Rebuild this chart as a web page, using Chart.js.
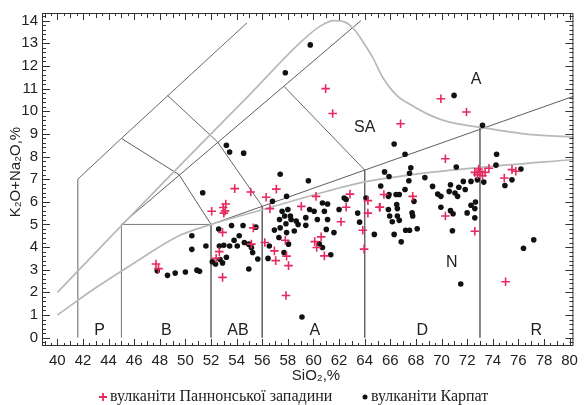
<!DOCTYPE html>
<html>
<head>
<meta charset="utf-8">
<script src="https://cdn.jsdelivr.net/npm/chart.js@4.4.0/dist/chart.umd.min.js"></script>
<style>
  html, body { margin: 0; padding: 0; background: #fff; }
  #wrap { width: 584px; height: 405px; }
</style>
</head>
<body>
<div id="wrap"><canvas id="tas" width="584" height="405"></canvas></div>
<script>
// tick labels
const xTicks = [40, 42, 44, 46, 48, 50, 52, 54, 56, 58, 60, 62, 64, 66, 68, 70, 72, 74, 76, 78, 80];
const yTicks = [0, 1, 2, 3, 4, 5, 6, 7, 8, 9, 10, 11, 12, 13, 14];

// вулканіти Паннонської западини (red crosses)
const pannonSi = [47.7, 47.9, 52.05, 52.95, 53.1, 53.15, 53.0, 53.85, 55.1, 56.3, 57.1, 56.6, 52.9, 52.65, 52.4, 52.9,
  55.15, 55.3, 56.2, 56.95, 57.05, 57.9, 58.05, 57.85, 57.8, 59.05, 60.2, 60.6, 60.1, 60.25, 60.85, 62.85, 62.55, 62.15,
  64.25, 65.15, 64.25, 63.85, 63.95, 60.95, 61.5, 66.8, 69.95, 71.95, 70.3, 72.6, 72.8, 73.0, 73.2, 73.4, 72.9, 73.7,
  74.9, 75.5, 75.8, 65.5, 67.75, 65.2, 70.3, 72.6, 75.0];
const pannonAlk = [3.25, 3.05, 5.58, 5.75, 5.6, 5.9, 5.5, 6.58, 6.43, 6.2, 6.56, 5.7, 4.65, 3.8, 3.5, 2.66,
  4.13, 4.85, 4.2, 3.83, 3.4, 3.6, 3.18, 1.86, 4.3, 5.8, 6.24, 4.45, 4.24, 3.98, 3.61, 6.34, 5.76, 5.12,
  6.05, 5.76, 5.5, 4.74, 3.91, 11.0, 9.9, 9.45, 10.55, 9.97, 7.9, 7.3, 7.2, 7.35, 7.15, 7.3, 7.45, 7.48,
  7.05, 7.42, 7.35, 6.32, 6.24, 5.76, 5.37, 4.7, 2.47];

// вулканіти Карпат (black dots)
const carpSi = [47.8, 48.6, 49.2, 50.0, 50.9, 51.1, 50.5, 50.5, 51.6, 51.35, 52.6, 53.6, 54.5, 55.5, 52.65, 53.0, 53.45,
  53.8, 54.05, 54.2, 54.6, 54.95, 55.15, 55.25, 55.65, 52.1, 52.35, 52.7, 52.9, 53.2, 54.95, 56.45, 56.55, 56.95, 57.3,
  57.4, 57.55, 57.85, 57.9, 57.9, 58.05, 58.2, 56.8, 57.7, 53.2, 53.45, 54.55, 57.4, 59.6, 57.8, 59.75, 58.0, 57.75,
  57.35, 58.25, 58.65, 59.4, 59.4, 59.7, 60.05, 60.7, 61.1, 60.85, 61.0, 61.6, 62.4, 62.55, 62.0, 63.45, 63.6, 58.5,
  58.8, 60.3, 61.1, 60.45, 60.7, 61.35, 59.1, 64.75, 64.1, 66.3, 67.15, 65.55, 65.9, 65.25, 65.85, 67.6, 67.5, 67.45,
  68.7, 71.15, 71.7, 72.3, 72.8, 70.7, 71.35, 69.3, 69.7, 69.95, 70.6, 71.05, 71.25, 71.85, 67.15, 65.9, 66.45, 66.7,
  67.85, 66.5, 66.55, 65.85, 69.95, 70.7, 70.9, 72.0, 72.3, 72.65, 72.6, 72.6, 65.95, 66.55, 66.7, 67.7, 67.75, 66.15,
  67.2, 67.5, 68.1, 66.3, 66.85, 70.85, 71.5, 70.98, 73.2, 74.3, 74.25, 73.3, 75.5, 74.95, 76.2, 76.4, 77.2];
const carpAlk = [2.95, 2.75, 2.85, 2.9, 2.98, 2.93, 4.5, 3.9, 4.05, 6.4, 4.8, 4.95, 4.95, 4.88, 4.05, 4.08, 4.05,
  4.3, 4.05, 4.5, 4.2, 4.13, 3.98, 3.76, 3.47, 3.35, 3.25, 3.45, 3.3, 3.55, 3.03, 3.5, 4.05, 4.75, 4.42,
  4.85, 5.58, 5.03, 4.64, 6.24, 4.13, 5.37, 6.02, 3.76, 8.5, 8.2, 8.15, 7.22, 6.93, 11.7, 12.93, 5.66, 5.37,
  5.22, 5.22, 5.15, 5.3, 4.96, 5.66, 5.58, 5.95, 5.9, 5.58, 4.78, 4.64, 6.17, 6.1, 5.66, 5.5, 5.1, 4.71,
  5.0, 5.22, 5.22, 4.15, 3.98, 3.66, 0.91, 4.56, 6.17, 8.55, 8.1, 7.32, 7.12, 6.7, 6.24, 7.5, 7.26, 6.93,
  7.07, 7.54, 6.9, 6.9, 6.97, 6.75, 6.64, 6.68, 6.34, 6.24, 6.46, 6.39, 6.24, 6.54, 6.54, 6.32, 6.32, 6.32,
  6.02, 5.88, 5.7, 5.66, 5.76, 5.61, 5.47, 5.51, 5.85, 5.99, 5.7, 5.29, 5.37, 5.37, 5.18, 5.51, 5.37, 5.12,
  4.74, 4.74, 4.81, 4.56, 4.23, 4.72, 2.37, 10.7, 9.38, 8.1, 7.62, 6.87, 6.97, 6.72, 7.45, 3.95, 4.32];

// field boundaries (SiO2, K2O+Na2O)
const outerLine = [[41.6, 0], [41.6, 7], [45, 8.8], [54.8, 13.9]];
const basaltBox = [[45, 0], [45, 5], [52, 5], [52, 0]];
const diagLine = [[45, 5], [63.7, 14]];
const basaniteLine = [[45, 8.8], [49.5, 7.2], [52, 5]];
const trachyBasLine = [[48.6, 10.7], [52.5, 8.65], [56, 5.8], [56, 0]];
const trachyLine = [[57.7, 11.1], [64, 7.4], [64, 0]];
const subLine = [[52, 5], [80.6, 10.72]];
const rhyoliteLine = [[73, 9.3], [73, 0]];
const upperCurve = [[40, 2], [45, 4.95], [50, 7.85], [55, 10.72], [58.9, 13.0], [60.5, 13.75],
  [61.6, 14.0], [62.4, 13.95], [63.2, 13.6], [64, 12.95], [64.6, 12.4], [65.4, 11.5], [66.5, 10.7], [67.7, 10.25],
  [69, 9.85], [70.4, 9.55], [72.9, 9.3], [76.8, 8.98], [80.6, 8.85]];
const lowerCurve = [[40, 1.0], [43, 2.2], [46, 3.3], [49.5, 4.5], [52, 5.0], [56, 5.65], [60, 6.3],
  [64, 6.88], [68, 7.22], [73, 7.52], [80.6, 7.88]];

const fieldLabels = ['P', 'B', 'AB', 'A', 'D', 'R', 'N', 'SA', 'A'];
const labelSi = [43.3, 48.5, 54.1, 60.1, 68.5, 77.4, 70.8, 64.0, 72.7];
const labelAlk = [0.33, 0.33, 0.33, 0.33, 0.33, 0.33, 3.3, 9.3, 11.4];

const RED = '#e52a5f';
const toXY = arr => arr.map(p => ({ x: p[0], y: p[1] }));

function boundary(pts, color, width, smooth) {
  return {
    type: 'scatter', data: toXY(pts), showLine: true, pointRadius: 0,
    borderColor: color, borderWidth: width, order: 3,
    cubicInterpolationMode: smooth ? 'monotone' : 'default', tension: smooth ? 0.4 : 0
  };
}

const datasets = [
  boundary(upperCurve, '#b8b8b8', 1.7, true),
  boundary(lowerCurve, '#b8b8b8', 1.7, true),
  boundary(outerLine, '#666', 1),
  boundary(basaltBox, '#777', 1),
  boundary(diagLine, '#5e5e5e', 1),
  boundary(basaniteLine, '#5e5e5e', 1),
  boundary(trachyBasLine, '#666', 1),
  boundary(trachyLine, '#666', 1),
  boundary(subLine, '#5e5e5e', 1),
  boundary(rhyoliteLine, '#777', 1),
  {
    label: 'вулканіти Карпат', type: 'scatter', order: 1,
    data: carpSi.map((v, i) => ({ x: v, y: carpAlk[i] })),
    pointStyle: 'circle', pointRadius: 2.8, backgroundColor: '#111', borderWidth: 0
  },
  {
    label: 'вулканіти Паннонської западини', type: 'scatter', order: 0,
    data: pannonSi.map((v, i) => ({ x: v, y: pannonAlk[i] })),
    pointStyle: 'cross', pointRadius: 4.3, borderColor: RED, borderWidth: 1.6
  }
];

// frame with inward ticks, titles, field labels and legend
const framePlugin = {
  id: 'frame',
  afterDraw(chart) {
    const { ctx, chartArea: a, scales: { x, y } } = chart;
    ctx.save();
    ctx.strokeStyle = '#333';
    ctx.lineWidth = 1;
    ctx.strokeRect(a.left + 0.5, a.top + 0.5, a.right - a.left - 1, a.bottom - a.top - 1);
    ctx.beginPath();
    for (let i = 78; i <= 160; i++) {
      const v = i / 2;
      const px = Math.round(x.getPixelForValue(v)) + 0.5;
      if (px <= a.left + 1 || px >= a.right - 1) continue;
      const len = i % 4 === 0 ? 7 : (i % 2 === 0 ? 5 : 3);
      ctx.moveTo(px, a.bottom); ctx.lineTo(px, a.bottom - len);
      ctx.moveTo(px, a.top); ctx.lineTo(px, a.top + len);
    }
    for (let i = -1; i <= 71; i++) {
      const py = Math.round(y.getPixelForValue(i / 5)) + 0.5;
      if (py <= a.top + 1 || py >= a.bottom - 1) continue;
      const len = i % 5 === 0 ? 8 : 4;
      ctx.moveTo(a.left, py); ctx.lineTo(a.left + len, py);
      ctx.moveTo(a.right, py); ctx.lineTo(a.right - len, py);
    }
    ctx.stroke();

    ctx.fillStyle = '#222';
    ctx.textAlign = 'center';
    ctx.textBaseline = 'middle';
    ctx.font = '16px "Liberation Sans", Arial, sans-serif';
    fieldLabels.forEach((t, i) => {
      ctx.fillText(t, x.getPixelForValue(labelSi[i]), y.getPixelForValue(labelAlk[i]));
    });

    ctx.font = '15px "Liberation Sans", Arial, sans-serif';
    ctx.fillText('SiO₂,%', 316, 376);
    ctx.save();
    ctx.translate(16, 172);
    ctx.rotate(-Math.PI / 2);
    ctx.fillText('K₂O+Na₂O,%', 0, 0);
    ctx.restore();

    // legend
    ctx.font = '16px "Liberation Serif", "Times New Roman", serif';
    ctx.textAlign = 'left';
    ctx.strokeStyle = RED;
    ctx.lineWidth = 1.8;
    ctx.beginPath();
    ctx.moveTo(99, 397); ctx.lineTo(107, 397);
    ctx.moveTo(103, 393); ctx.lineTo(103, 401);
    ctx.stroke();
    ctx.fillText('вулканіти Паннонської западини', 110, 397);
    ctx.fillStyle = '#111';
    ctx.beginPath();
    ctx.arc(365, 397, 2.5, 0, Math.PI * 2);
    ctx.fill();
    ctx.fillStyle = '#222';
    ctx.fillText('вулканіти Карпат', 371, 397);
    ctx.restore();
  }
};

new Chart(document.getElementById('tas'), {
  type: 'scatter',
  data: { datasets },
  options: {
    responsive: false,
    animation: false,
    devicePixelRatio: 1,
    layout: { padding: { left: 0, top: 10, right: 9, bottom: 0 } },
    plugins: { legend: { display: false }, tooltip: { enabled: false } },
    scales: {
      x: {
        type: 'linear', min: 38.8, max: 80.3,
        grid: { display: false, drawTicks: false }, border: { display: false },
        afterBuildTicks: s => { s.ticks = xTicks.map(v => ({ value: v })); },
        afterFit: s => { s.height = 59; },
        ticks: { padding: 6, maxRotation: 0, autoSkip: false, color: '#222',
                 font: { size: 15, family: '"Liberation Sans", Arial, sans-serif' } }
      },
      y: {
        type: 'linear', min: -0.37, max: 14.34,
        grid: { display: false, drawTicks: false }, border: { display: false },
        afterBuildTicks: s => { s.ticks = yTicks.map(v => ({ value: v })); },
        afterFit: s => { s.width = 42; },
        ticks: { padding: 4, autoSkip: false, color: '#222',
                 font: { size: 15, family: '"Liberation Sans", Arial, sans-serif' } }
      }
    }
  },
  plugins: [framePlugin]
});
</script>
</body>
</html>
